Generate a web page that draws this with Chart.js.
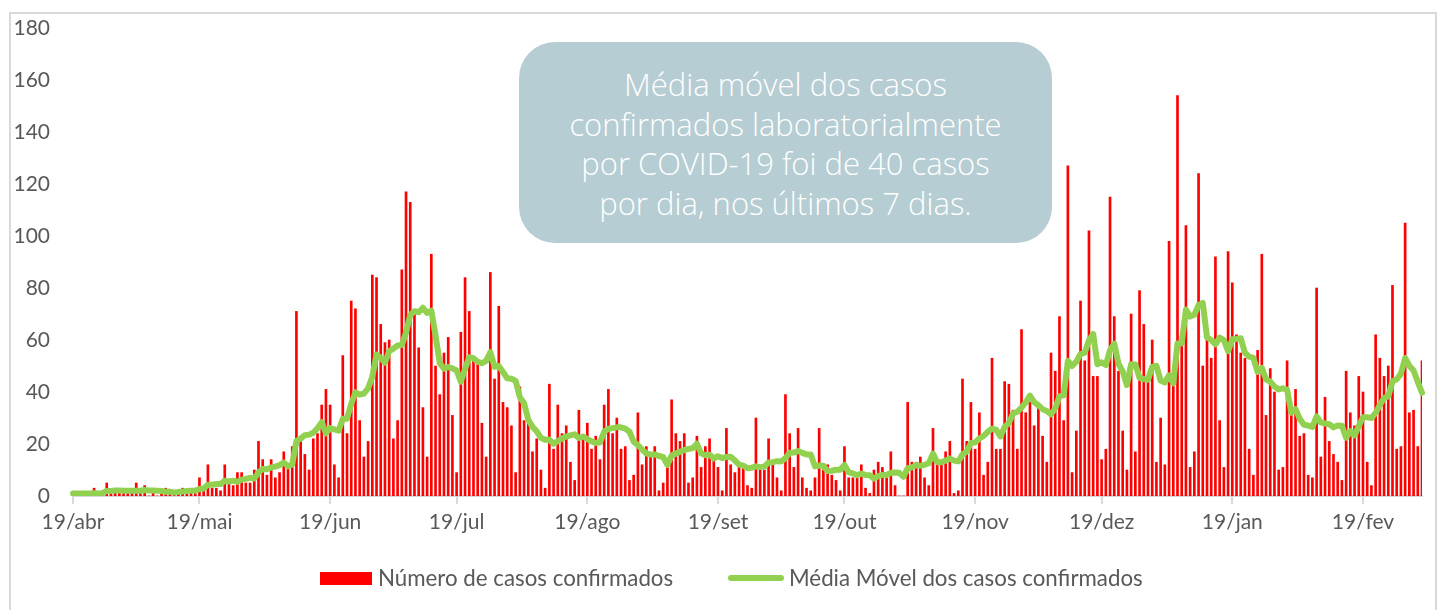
<!DOCTYPE html>
<html>
<head>
<meta charset="utf-8">
<script src="https://cdn.jsdelivr.net/npm/chart.js@4.4.1/dist/chart.umd.min.js"></script>
<style>
html,body{margin:0;padding:0;background:#fff;}
#wrap{position:relative;width:1438px;height:610px;overflow:hidden;}
#frame{position:absolute;left:9px;top:12px;width:1428px;height:640px;border:2px solid #d9d9d9;box-sizing:border-box;}
#c{position:absolute;left:0;top:0;}
#note{position:absolute;left:519px;top:42px;width:533px;height:201px;border-radius:36px;background:#b6cdd3;color:#fff;
  font-family:'Open Sans',sans-serif;font-weight:300;font-size:31px;line-height:39.5px;text-align:center;padding-top:23px;box-sizing:border-box;}
.legtxt{position:absolute;top:566px;font-family:Lato,sans-serif;font-size:22.3px;line-height:24px;color:#595959;white-space:nowrap;}
#legbar{position:absolute;left:320px;top:572px;width:52px;height:13px;background:#ff0000;}
#legline{position:absolute;left:728px;top:575px;width:56px;height:6px;border-radius:3px;background:#92d050;}
</style>
</head>
<body>
<div id="wrap">
  <div id="frame"></div>
  <canvas id="c" width="1438" height="610"></canvas>
  <div id="note">Média móvel dos casos<br>confirmados laboratorialmente<br>por COVID-19 foi de 40 casos<br>por dia, nos últimos 7 dias.</div>
  <div id="legbar"></div><div class="legtxt" style="left:378px">Número de casos confirmados</div>
  <div id="legline"></div><div class="legtxt" style="left:789px">Média Móvel dos casos confirmados</div>
</div>
<script>
// Daily confirmed cases, from 19/abr/2020 onward (one value per day)
const CASES = [
  1,0,1,0,1,3,1,2,5,1, 2,1,2,1,2,5,1,4,0,2, 0,1,3,2,1,2,3,1,2,3,
  7,2,12,3,3,2,12,5,4,9, 9,5,5,10,21,14,8,14,7,9, 17,11,19,71,21,16,10,22,24,35,
  41,35,12,7,54,24,75,72,29,15, 21,85,84,66,59,60,22,29,87,117, 113,70,57,34,15,93,50,39,55,61,
  31,9,63,84,71,52,51,28,15,86, 45,73,36,34,27,9,42,29,28,17, 22,10,3,43,18,35,24,27,13,6,
  33,22,28,18,23,14,35,41,24,30, 18,19,6,8,32,12,19,16,19,2, 5,11,37,24,21,24,5,7,23,11,
  19,22,14,11,2,26,12,9,11,11, 4,3,30,10,10,22,12,7,2,39, 24,11,26,7,3,2,7,26,10,12,
  8,6,2,19,7,7,7,12,3,1, 10,13,11,7,17,4,0,0,36,13, 13,15,7,4,26,13,13,17,21,1,
  2,45,21,36,18,32,8,13,53,18, 18,44,43,33,18,64,32,36,27,34, 23,13,55,48,69,29,127,9,25,75,
  52,102,46,46,14,18,115,69,48,25, 10,70,17,79,66,46,60,13,30,12, 98,44,154,60,104,11,17,124,50,61,
  53,92,29,11,94,82,62,55,53,18, 8,56,93,31,49,40,10,11,52,31, 41,23,24,8,7,80,15,38,21,16,
  13,6,48,32,27,46,40,13,4,62, 53,46,50,81,18,19,105,32,33,19, 52
];
// 7-day moving average as drawn in the reference
const MOVING_AVG = [
  1.0,1.0,1.0,1.0,1.0,1.1,1.0,1.1,1.9,1.9, 2.1,2.1,2.0,2.0,2.0,2.0,2.0,2.3,2.1,2.1, 2.0,1.9,1.6,1.7,1.3,1.6,1.7,1.9,2.0,2.0,
  2.7,2.9,4.3,4.3,4.6,4.6,5.9,5.6,5.9,5.4, 6.3,6.6,7.0,6.7,9.0,10.4,10.3,11.0,11.3,11.9, 12.9,11.4,12.1,21.1,22.1,23.4,23.6,24.3,26.1,28.4,
  24.1,26.1,25.6,25.1,29.7,29.7,35.4,39.9,39.0,39.4, 41.4,45.9,54.4,53.1,51.3,55.7,56.7,57.9,58.1,62.9, 69.6,71.1,70.7,72.4,70.4,71.3,61.7,51.1,49.0,49.6,
  49.1,48.3,44.0,48.9,53.4,53.0,51.6,51.1,52.0,55.3, 49.7,50.0,47.7,45.3,45.1,44.3,38.0,35.7,29.3,26.6, 24.9,22.4,21.6,21.7,20.1,21.1,22.1,22.9,23.3,23.7,
  22.3,22.9,21.9,21.0,20.4,20.6,24.7,25.9,26.1,26.4, 26.4,25.9,24.7,20.9,19.6,17.9,16.3,16.0,16.0,15.4, 15.0,12.0,15.6,16.3,17.0,17.7,18.1,18.4,20.1,16.4,
  15.7,15.9,14.4,15.3,14.6,15.0,15.1,13.7,12.1,11.7, 10.7,10.9,11.4,11.1,11.3,12.9,13.0,13.4,13.3,14.6, 16.6,16.7,17.3,16.6,16.0,16.0,11.4,11.7,11.6,9.6,
  9.7,10.1,10.1,11.9,9.1,8.7,8.0,8.6,8.1,8.0, 6.7,7.6,8.1,8.1,8.9,9.0,8.9,7.4,10.7,11.0, 11.9,11.6,12.0,12.6,16.3,13.0,13.0,13.6,14.4,13.6,
  13.3,16.0,17.1,20.4,20.6,22.1,23.1,24.7,25.9,25.4, 22.9,26.6,28.1,31.7,32.4,34.0,36.0,38.6,36.1,34.9, 33.4,32.7,31.4,33.7,38.4,38.7,52.0,50.0,51.7,54.6,
  55.1,59.9,62.3,50.7,51.4,50.4,56.1,58.6,50.9,47.9, 42.7,50.7,50.6,45.4,45.0,44.7,49.7,50.1,44.4,43.7, 46.4,43.3,58.7,58.7,71.7,69.0,69.7,73.4,74.3,61.0,
  60.0,58.3,60.9,60.0,55.7,60.3,60.4,60.7,55.1,53.6, 53.1,47.7,49.3,44.9,44.0,42.1,41.0,41.4,40.9,32.0, 33.4,29.7,27.4,27.1,26.6,30.6,28.3,27.9,27.6,26.4,
  27.1,27.0,22.4,24.9,23.3,26.9,30.3,30.3,30.0,32.0, 35.0,37.7,38.3,44.1,44.9,47.0,53.1,50.1,48.3,43.9, 39.7
];
const MONTHS = ['jan','fev','mar','abr','mai','jun','jul','ago','set','out','nov','dez'];
const TICK_LABELS = ['19/abr','19/mai','19/jun','19/jul','19/ago','19/set','19/out','19/nov','19/dez','19/jan','19/fev'];
const Y_MIN = 0, Y_MAX = 180, Y_STEP = 20;

const CATEGORIES = CASES.map((_, i) => {
  const d = new Date(2020, 3, 19 + i);
  return d.getDate() + '/' + MONTHS[d.getMonth()];
});
const isLabeled = (i) => TICK_LABELS.includes(CATEGORIES[i]);

new Chart(document.getElementById('c'), {
  type: 'bar',
  data: {
    labels: CATEGORIES,
    datasets: [
      { type: 'line', label: 'Média Móvel dos casos confirmados', data: MOVING_AVG,
        borderColor: '#92D050', borderWidth: 6, pointRadius: 0, pointHoverRadius: 0, tension: 0,
        borderJoinStyle: 'round', borderCapStyle: 'round', order: 0 },
      { type: 'bar', label: 'Número de casos confirmados', data: CASES,
        backgroundColor: '#FF0000', barThickness: 2, order: 1 }
    ]
  },
  options: {
    responsive: false, animation: false, devicePixelRatio: 1,
    layout: { autoPadding: false, padding: { top: 0, right: 16, left: 0, bottom: 0 } },
    plugins: { legend: { display: false }, tooltip: { enabled: false } },
    scales: {
      x: {
        type: 'category', offset: false,
        grid: { offset: false, drawOnChartArea: false, drawTicks: true, tickLength: 8, lineWidth: 2,
                color: (c) => (c.tick && isLabeled(c.tick.value)) ? '#d9d9d9' : 'rgba(0,0,0,0)' },
        border: { display: true, color: '#d9d9d9', width: 2 },
        ticks: { autoSkip: false, maxRotation: 0, minRotation: 0, padding: 6, color: '#595959',
                 font: { family: 'Lato', size: 21 },
                 callback: (v, i) => isLabeled(i) ? CATEGORIES[i] : '' },
        afterFit: (s) => { s.height = 114; }
      },
      y: {
        min: Y_MIN, max: Y_MAX,
        grid: { display: false, drawTicks: false }, border: { display: false },
        ticks: { stepSize: Y_STEP, padding: 23, color: '#595959', font: { family: 'Lato', size: 21, lineHeight: 0.48 } },
        afterFit: (s) => { s.width = 73; }
      }
    }
  }
});
</script>
</body>
</html>
